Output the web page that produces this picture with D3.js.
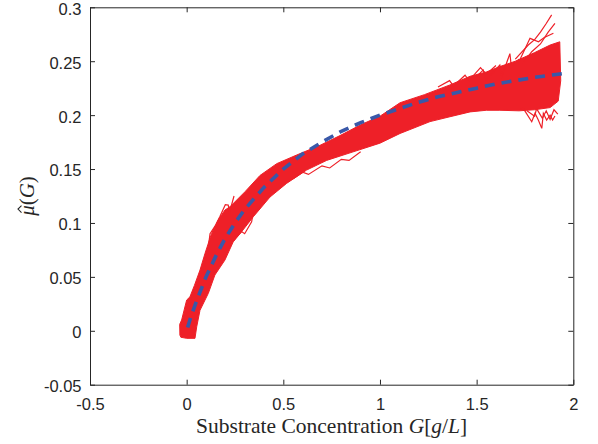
<!DOCTYPE html>
<html>
<head>
<meta charset="utf-8">
<script src="https://cdn.jsdelivr.net/npm/d3@7"></script>
<style>
  html, body { margin: 0; padding: 0; background: #fff; }
  svg { display: block; }
</style>
</head>
<body>
<svg id="chart" width="598" height="444"></svg>
<script>
// ---- data ----
const xTicks = [-0.5, 0, 0.5, 1, 1.5, 2];
const yTicks = [-0.05, 0, 0.05, 0.1, 0.15, 0.2, 0.25, 0.3];
const xTickLabels = ["-0.5", "0", "0.5", "1", "1.5", "2"];
const yTickLabels = ["-0.05", "0", "0.05", "0.1", "0.15", "0.2", "0.25", "0.3"];

// mean estimate (blue dashed)
const meanG  = [0.005, 0.02, 0.05, 0.1, 0.15, 0.2, 0.25, 0.3, 0.4, 0.5, 0.6, 0.7, 0.8, 0.9, 1.0, 1.1, 1.2, 1.3, 1.4, 1.5, 1.6, 1.7, 1.8, 1.9, 1.965];
const meanMu = [0.003, 0.012, 0.027, 0.050, 0.069, 0.086, 0.100, 0.1125, 0.133, 0.150, 0.164, 0.175, 0.185, 0.193, 0.200, 0.206, 0.212, 0.217, 0.221, 0.225, 0.229, 0.232, 0.235, 0.2375, 0.239];

// envelope of the red trajectory bundle: upper/left edge
const upperG  = [-0.035, -0.036, -0.026, -0.012, 0.0, 0.017, 0.04, 0.069, 0.095, 0.129, 0.163, 0.198, 0.224, 0.302, 0.379, 0.466, 0.569, 0.69, 0.793, 0.9, 1.0, 1.104, 1.23, 1.362, 1.466, 1.55, 1.62, 1.70, 1.80, 1.88, 1.93];
const upperMu = [-0.004, 0.006, 0.010, 0.020, 0.0285, 0.0315, 0.042, 0.0563, 0.0718, 0.0903, 0.1027, 0.112, 0.115, 0.129, 0.144, 0.155, 0.163, 0.172, 0.181, 0.191, 0.199, 0.2115, 0.219, 0.228, 0.236, 0.240, 0.245, 0.250, 0.258, 0.265, 0.268];
// lower/right edge
const lowerG  = [-0.03, 0.0, 0.043, 0.052, 0.069, 0.112, 0.146, 0.198, 0.241, 0.284, 0.345, 0.431, 0.517, 0.62, 0.724, 0.845, 1.0, 1.104, 1.259, 1.362, 1.466, 1.55, 1.62, 1.72, 1.80, 1.88, 1.922, 1.935];
const lowerMu = [-0.006, -0.007, -0.007, 0.0037, 0.019, 0.0347, 0.0517, 0.0656, 0.0826, 0.0918, 0.1058, 0.124, 0.1367, 0.149, 0.158, 0.165, 0.174, 0.183, 0.194, 0.1985, 0.203, 0.2045, 0.2045, 0.204, 0.205, 0.207, 0.213, 0.232];

// individual outlying trajectories visible at the edges
const outlierA_G  = [0.11, 0.121, 0.150, 0.172, 0.200, 0.215, 0.222, 0.245];
const outlierA_Mu = [0.075, 0.090, 0.098, 0.106, 0.117, 0.1166, 0.110, 0.125];
const outlierB_G  = [0.241, 0.258, 0.284, 0.300, 0.336, 0.345, 0.38];
const outlierB_Mu = [0.083, 0.087, 0.092, 0.090, 0.101, 0.110, 0.114];
const outlierC_G  = [1.70, 1.767, 1.80, 1.83, 1.86, 1.888];
const outlierC_Mu = [0.252, 0.265, 0.270, 0.277, 0.285, 0.293];
const outlierD_G  = [1.72, 1.776, 1.82, 1.85, 1.897];
const outlierD_Mu = [0.250, 0.2712, 0.268, 0.272, 0.276];
const outlierE_G  = [1.74, 1.785, 1.83, 1.87, 1.905];
const outlierE_Mu = [0.248, 0.2588, 0.266, 0.277, 0.285];
const outlierF_G  = [1.72, 1.741, 1.785, 1.802, 1.819, 1.837, 1.845, 1.862, 1.88, 1.893, 1.905];
const outlierF_Mu = [0.205, 0.2063, 0.1939, 0.2017, 0.1955, 0.1877, 0.2017, 0.1955, 0.200, 0.1955, 0.1992];
const outlierG_G  = [1.50, 1.534, 1.55, 1.62, 1.63, 1.672, 1.68, 1.72];
const outlierG_Mu = [0.236, 0.2418, 0.233, 0.2465, 0.236, 0.257, 0.244, 0.252];
const outlierH_G  = [1.30, 1.36, 1.38, 1.44, 1.46, 1.52, 1.55, 1.60];
const outlierH_Mu = [0.226, 0.232, 0.227, 0.237, 0.232, 0.244, 0.238, 0.246];
const outlierI_G  = [1.76, 1.80, 1.81, 1.84, 1.86, 1.88, 1.90, 1.92];
const outlierI_Mu = [0.204, 0.199, 0.206, 0.197, 0.204, 0.196, 0.205, 0.201];
const outlierJ_G  = [0.55, 0.60, 0.63, 0.70, 0.74, 0.80, 0.84, 0.90];
const outlierJ_Mu = [0.141, 0.147, 0.145, 0.153, 0.151, 0.159, 0.158, 0.166];
const outlierK_G  = [-0.01, 0.015, 0.03, 0.055, 0.07, 0.09, 0.10];
const outlierK_Mu = [0.014, 0.019, 0.032, 0.038, 0.050, 0.055, 0.068];

// ---- layout ----
const svg = d3.select("#chart");
const x = d3.scaleLinear().domain([-0.5, 2]).range([90, 573.3]);
const y = d3.scaleLinear().domain([-0.05, 0.3]).range([384.7, 7.3]);
const axisColor = "#262626";
const red = "#ee2028";
const blue = "#3a58a8";

const zip = (a, b) => a.map((v, i) => [v, b[i]]);
const line = d3.line().x(d => x(d[0])).y(d => y(d[1]));

// red band
const bandPts = zip(upperG, upperMu).concat(zip(lowerG, lowerMu).reverse());
svg.append("path")
  .attr("d", line(bandPts) + "Z")
  .attr("fill", red)
  .attr("stroke", red)
  .attr("stroke-width", 1)
  .attr("stroke-linejoin", "round");

const outliers = [
  [outlierA_G, outlierA_Mu], [outlierB_G, outlierB_Mu], [outlierC_G, outlierC_Mu],
  [outlierD_G, outlierD_Mu], [outlierE_G, outlierE_Mu], [outlierF_G, outlierF_Mu],
  [outlierG_G, outlierG_Mu], [outlierH_G, outlierH_Mu], [outlierI_G, outlierI_Mu],
  [outlierJ_G, outlierJ_Mu], [outlierK_G, outlierK_Mu]
];
outliers.forEach(([g, m]) => {
  svg.append("path")
    .attr("d", line(zip(g, m)))
    .attr("fill", "none")
    .attr("stroke", red)
    .attr("stroke-width", 1.2);
});

// blue dashed mean
svg.append("path")
  .attr("d", line(zip(meanG, meanMu)))
  .attr("fill", "none")
  .attr("stroke", blue)
  .attr("stroke-width", 3.6)
  .attr("stroke-dasharray", "10,7");

// ---- axes box with inward ticks on all four sides ----
const x0 = x.range()[0], x1 = x.range()[1], y0 = y.range()[0], y1 = y.range()[1];
const tickLen = 5;

const axB = d3.axisBottom(x).tickValues(xTicks).tickFormat((d, i) => xTickLabels[i]).tickSizeInner(-tickLen).tickSizeOuter(0).tickPadding(14);
const axT = d3.axisTop(x).tickValues(xTicks).tickFormat("").tickSizeInner(-tickLen).tickSizeOuter(0);
const axL = d3.axisLeft(y).tickValues(yTicks).tickFormat((d, i) => yTickLabels[i]).tickSizeInner(-tickLen).tickSizeOuter(0).tickPadding(8.5);
const axR = d3.axisRight(y).tickValues(yTicks).tickFormat("").tickSizeInner(-tickLen).tickSizeOuter(0);

function style(g) {
  g.selectAll("path.domain").attr("stroke", axisColor).attr("stroke-width", 1);
  g.selectAll(".tick line").attr("stroke", axisColor).attr("stroke-width", 1);
  g.selectAll(".tick text").attr("fill", axisColor)
    .style("font-family", "'Liberation Sans', Arial, Helvetica, sans-serif")
    .style("font-size", "16.5px");
}
svg.append("g").attr("transform", `translate(0,${y0})`).call(axB).call(style);
svg.append("g").attr("transform", `translate(0,${y1})`).call(axT).call(style);
svg.append("g").attr("transform", `translate(${x0},0)`).call(axL).call(style)
  .selectAll(".tick text").attr("dy", "0.42em");
svg.append("g").attr("transform", `translate(${x1},0)`).call(axR).call(style);

// ---- axis labels ----
const serif = "'Liberation Serif', 'DejaVu Serif', serif";
const xl = svg.append("text")
  .attr("x", (x0 + x1) / 2)
  .attr("y", 433)
  .attr("text-anchor", "middle")
  .attr("fill", axisColor)
  .style("font-family", serif)
  .style("font-size", "21.5px");
xl.append("tspan").text("Substrate Concentration ");
xl.append("tspan").attr("font-style", "italic").text("G");
xl.append("tspan").text("[");
xl.append("tspan").attr("font-style", "italic").text("g");
xl.append("tspan").text("/");
xl.append("tspan").attr("font-style", "italic").text("L");
xl.append("tspan").text("]");

const ylg = svg.append("g")
  .attr("transform", `translate(34,${(y0 + y1) / 2}) rotate(-90)`);
const yl = ylg.append("text")
  .attr("text-anchor", "middle")
  .attr("fill", axisColor)
  .style("font-family", serif)
  .style("font-size", "21px");
yl.append("tspan").attr("font-style", "italic").text("\u03bc");
yl.append("tspan").text("(");
yl.append("tspan").attr("font-style", "italic").text("G");
yl.append("tspan").text(")");
// hat over mu
const ext = yl.node().getExtentOfChar(0);
const hc = ext.x + ext.width / 2 + 1.5;
const hy = -15;
ylg.append("path")
  .attr("d", `M${hc - 3.5},${hy + 2.5} L${hc},${hy - 1} L${hc + 3.5},${hy + 2.5}`)
  .attr("fill", "none")
  .attr("stroke", axisColor)
  .attr("stroke-width", 1.1);
</script>
</body>
</html>
